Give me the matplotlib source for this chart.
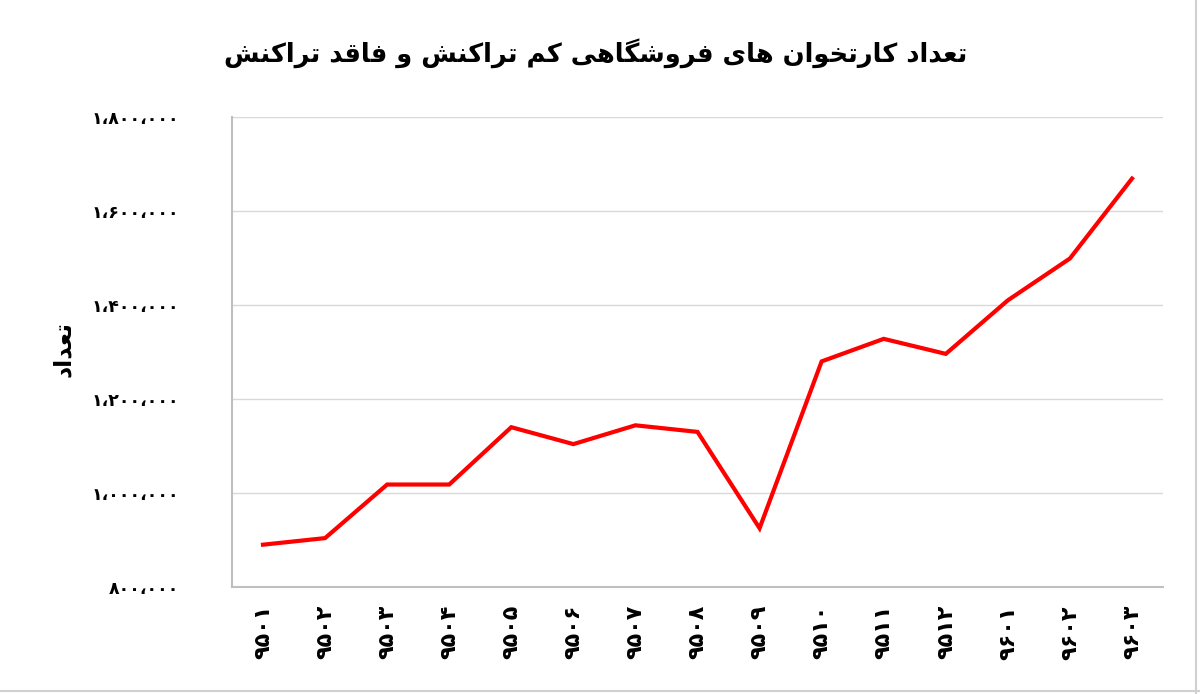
import matplotlib
matplotlib.use("Agg")
import matplotlib.pyplot as plt
from matplotlib.lines import Line2D

# data
months = ["9501", "9502", "9503", "9504", "9505", "9506", "9507", "9508",
          "9509", "9510", "9511", "9512", "9601", "9602", "9603"]
counts = [890000, 904000, 1018000, 1018000, 1140000, 1104000, 1144000, 1130000,
          925000, 1280000, 1328000, 1296000, 1410000, 1499000, 1669000]
y_ticks = [800000, 1000000, 1200000, 1400000, 1600000, 1800000]

title_text = "تعداد کارتخوان های فروشگاهی کم تراکنش و فاقد تراکنش"
ylabel_text = "تعداد"

# matplotlib has no arabic shaping, so pick presentation forms by hand
# (isolated, final, initial, medial)
FORMS = {
    "ا": ("\uFE8D", "\uFE8E", None, None),
    "ب": ("\uFE8F", "\uFE90", "\uFE91", "\uFE92"),
    "ت": ("\uFE95", "\uFE96", "\uFE97", "\uFE98"),
    "خ": ("\uFEA5", "\uFEA6", "\uFEA7", "\uFEA8"),
    "د": ("\uFEA9", "\uFEAA", None, None),
    "ر": ("\uFEAD", "\uFEAE", None, None),
    "ش": ("\uFEB5", "\uFEB6", "\uFEB7", "\uFEB8"),
    "ع": ("\uFEC9", "\uFECA", "\uFECB", "\uFECC"),
    "ف": ("\uFED1", "\uFED2", "\uFED3", "\uFED4"),
    "ق": ("\uFED5", "\uFED6", "\uFED7", "\uFED8"),
    "م": ("\uFEE1", "\uFEE2", "\uFEE3", "\uFEE4"),
    "ن": ("\uFEE5", "\uFEE6", "\uFEE7", "\uFEE8"),
    "ه": ("\uFEE9", "\uFEEA", "\uFEEB", "\uFEEC"),
    "و": ("\uFEED", "\uFEEE", None, None),
    "ک": ("\uFB8E", "\uFB8F", "\uFB90", "\uFB91"),
    "گ": ("\uFB92", "\uFB93", "\uFB94", "\uFB95"),
    "ی": ("\uFBFC", "\uFBFD", "\uFBFE", "\uFBFF"),
}


def shape(text):
    out = []
    for i, c in enumerate(text):
        if c not in FORMS:
            out.append(c)
            continue
        prev = text[i - 1] if i > 0 else None
        nxt = text[i + 1] if i + 1 < len(text) else None
        jp = prev in FORMS and FORMS[prev][2] is not None
        jn = FORMS[c][2] is not None and nxt in FORMS
        iso, fin, ini, med = FORMS[c]
        if jp and jn:
            out.append(med)
        elif jp:
            out.append(fin)
        elif jn:
            out.append(ini)
        else:
            out.append(iso)
    return "".join(out)[::-1]


FA_DIGITS = str.maketrans("0123456789", "۰۱۲۳۴۵۶۷۸۹")


def fa_num(v):
    return f"{v:,}".replace(",", "،").translate(FA_DIGITS)


fig = plt.figure(figsize=(12, 6.94), dpi=100)
ax = fig.add_axes([0.1933, 0.1542, 0.7759, 0.6772])

x = list(range(len(months)))
ax.plot(x, counts, color="#FF0000", lw=3, solid_joinstyle="miter", zorder=3)

ax.set_xlim(-0.5, len(months) - 0.5)
ax.set_ylim(800000, 1800000)
ax.set_yticks(y_ticks)
ax.set_yticklabels([fa_num(v) for v in y_ticks], fontsize=12.5, fontweight="bold")
ax.set_xticks(x)
ax.set_xticklabels([m.translate(FA_DIGITS) for m in months], rotation=90,
                   fontsize=16, fontweight="bold")
ax.tick_params(length=0)
ax.tick_params(axis="y", pad=38)
ax.tick_params(axis="x", pad=13)

ax.grid(axis="y", color="#D9D9D9", lw=1)
ax.set_axisbelow(True)
for s in ["top", "right"]:
    ax.spines[s].set_visible(False)
for s in ["left", "bottom"]:
    ax.spines[s].set_color("#BFBFBF")
    ax.spines[s].set_linewidth(1.5)

fig.text(0.496, 0.924, shape(title_text), ha="center", va="center",
         fontsize=18.5, fontweight="bold")
fig.text(0.052, 0.497, shape(ylabel_text), ha="center", va="center",
         rotation=90, fontsize=17, fontweight="bold")

# chart area border (right and bottom visible in the reference)
fig.add_artist(Line2D([0.997, 0.997], [0.0, 1.0], color="#D0D0D0", lw=1.5,
                      transform=fig.transFigure))
fig.add_artist(Line2D([0.0, 1.0], [0.004, 0.004], color="#D0D0D0", lw=1.5,
                      transform=fig.transFigure))

fig.savefig("out.png", dpi=100)
